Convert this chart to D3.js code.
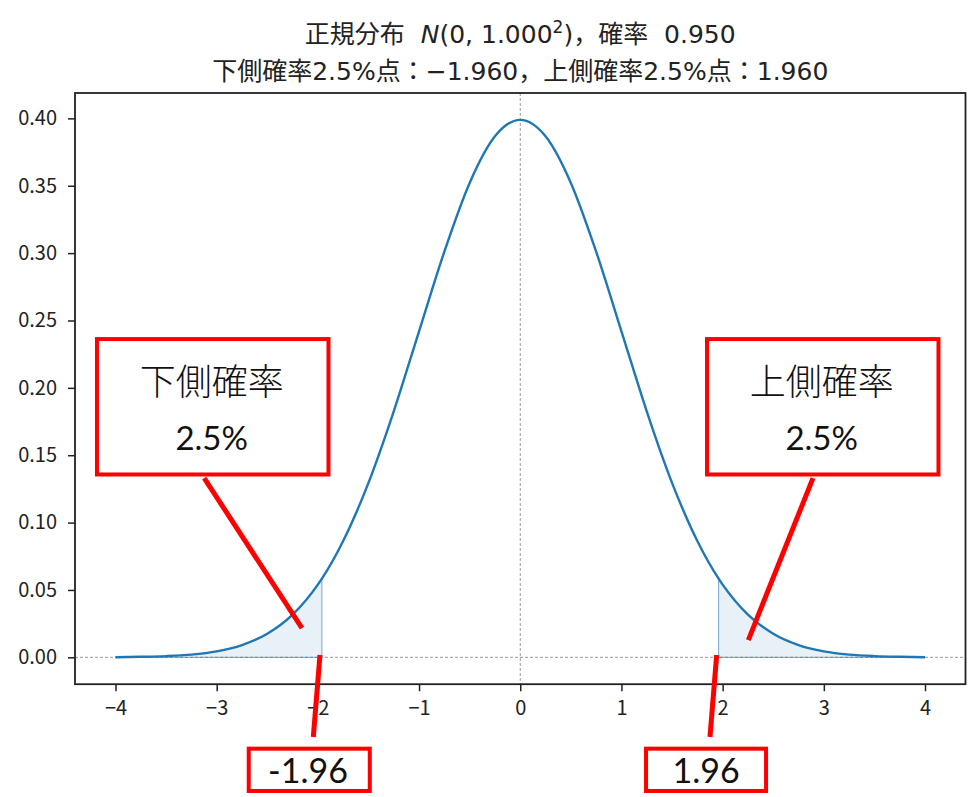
<!DOCTYPE html>
<html>
<head>
<meta charset="utf-8">
<script src="https://cdn.jsdelivr.net/npm/d3@7"></script>
<style>
  body { margin: 0; background: #fff; }
  svg { display: block; }
</style>
</head>
<body>
<div id="chart"></div>
<script>
// 標準正規分布の密度 (図から読んだ値)
var xs = [-4, -3.75, -3.5, -3.25, -3, -2.75, -2.5, -2.25, -2, -1.96, -1.75, -1.5, -1.25, -1, -0.75, -0.5, -0.25,
  0, 0.25, 0.5, 0.75, 1, 1.25, 1.5, 1.75, 1.96, 2, 2.25, 2.5, 2.75, 3, 3.25, 3.5, 3.75, 4];
var pdf = [0.0001, 0.0004, 0.0009, 0.0020, 0.0044, 0.0091, 0.0175, 0.0317, 0.0540, 0.0584, 0.0863, 0.1295, 0.1826, 0.2420, 0.3011, 0.3521, 0.3867,
  0.3989, 0.3867, 0.3521, 0.3011, 0.2420, 0.1826, 0.1295, 0.0863, 0.0584, 0.0540, 0.0317, 0.0175, 0.0091, 0.0044, 0.0020, 0.0009, 0.0004, 0.0001];
var lowerQ = -1.96, upperQ = 1.96;
var xTicks = [-4, -3, -2, -1, 0, 1, 2, 3, 4];
var yTicks = [0, 0.05, 0.10, 0.15, 0.20, 0.25, 0.30, 0.35, 0.40];
var titleLine2 = "下側確率2.5%点：−1.960，上側確率2.5%点：1.960";

// 注釈 (データ座標)
var boxes = [
  { x0: -4.183, x1: -1.895, y0: 0.2362, y1: 0.1357, label: "下側確率", value: "2.5%", tx: -3.049 },
  { x0: 1.8455, x1: 4.133, y0: 0.2362, y1: 0.1357, label: "上側確率", value: "2.5%", tx: 2.979 }
];
var qBoxes = [
  { x0: -2.683, x1: -1.487, y0: -0.0678, y1: -0.0992, text: "-1.96", tx: -2.098 },
  { x0: 1.243, x1: 2.429, y0: -0.0678, y1: -0.0992, text: "1.96", tx: 1.836 }
];
var leaders = [
  [[-3.123, 0.1330], [-2.157, 0.0217]],
  [[2.893, 0.1330], [2.254, 0.0128]],
  [[-1.979, 0.0017], [-2.045, -0.0591]],
  [[1.941, 0.0017], [1.875, -0.0591]]
];

var width = 980, height = 797;
var margin = { top: 93, right: 14.5, bottom: 112.8, left: 75 };

var svg = d3.select("#chart").append("svg")
  .attr("width", width)
  .attr("height", height);

svg.append("rect").attr("width", width).attr("height", height).attr("fill", "#fff");

var x = d3.scaleLinear().domain([-4.4, 4.4]).range([margin.left, width - margin.right]);
var y = d3.scaleLinear().domain([-0.01995, 0.41884]).range([height - margin.bottom, margin.top]);

var pts = xs.map(function (d, i) { return [d, pdf[i]]; });

// 補助線
svg.append("line")
  .attr("x1", x(0)).attr("x2", x(0))
  .attr("y1", y.range()[1]).attr("y2", y.range()[0])
  .attr("stroke", "#999").attr("stroke-width", 1).attr("stroke-dasharray", "3,2");
svg.append("line")
  .attr("x1", x.range()[0]).attr("x2", x.range()[1])
  .attr("y1", y(0)).attr("y2", y(0))
  .attr("stroke", "#999").attr("stroke-width", 1).attr("stroke-dasharray", "3,2");

// 塗りつぶし (両側)
var area = d3.area()
  .curve(d3.curveMonotoneX)
  .x(function (d) { return x(d[0]); })
  .y0(y(0))
  .y1(function (d) { return y(d[1]); });

[pts.filter(function (d) { return d[0] <= lowerQ; }),
 pts.filter(function (d) { return d[0] >= upperQ; })].forEach(function (seg) {
  svg.append("path")
    .datum(seg)
    .attr("d", d => area(d) + "Z")
    .attr("fill", "#1f77b4").attr("fill-opacity", 0.1)
    .attr("stroke", "#1f77b4").attr("stroke-opacity", 0.6).attr("stroke-width", 1);
});

// 密度曲線
var line = d3.line()
  .curve(d3.curveMonotoneX)
  .x(function (d) { return x(d[0]); })
  .y(function (d) { return y(d[1]); });

svg.append("path")
  .datum(pts)
  .attr("d", line)
  .attr("fill", "none")
  .attr("stroke", "#1f77b4")
  .attr("stroke-width", 2.4);

// 軸
var tickFont = "'Noto Sans CJK JP', sans-serif";
var titleFont = "'DejaVu Sans', 'Noto Sans CJK JP', sans-serif";
var yAxis = svg.append("g")
  .attr("transform", "translate(" + margin.left + ",0)")
  .call(d3.axisLeft(y).tickValues(yTicks).tickFormat(d3.format(".2f")).tickSize(7).tickPadding(11));
var xAxis = svg.append("g")
  .attr("transform", "translate(0," + (height - margin.bottom) + ")")
  .call(d3.axisBottom(x).tickValues(xTicks).tickFormat(d3.format("d")).tickSize(7).tickPadding(10));

[xAxis, yAxis].forEach(function (g) {
  g.select(".domain").remove();
  g.selectAll(".tick line").attr("stroke", "#222").attr("stroke-width", 1.5);
  g.selectAll(".tick text")
    .attr("fill", "#222")
    .style("font-family", tickFont)
    .style("font-size", "20px");
});

svg.append("rect")
  .attr("x", x.range()[0]).attr("y", y.range()[1])
  .attr("width", x.range()[1] - x.range()[0])
  .attr("height", y.range()[0] - y.range()[1])
  .attr("fill", "none").attr("stroke", "#222").attr("stroke-width", 1.8);

// タイトル
var cx = (x.range()[0] + x.range()[1]) / 2;
var t1 = svg.append("text")
  .attr("x", cx).attr("y", 43)
  .attr("text-anchor", "middle")
  .style("font-family", titleFont).style("font-size", "25px").attr("fill", "#222");
t1.append("tspan").text("正規分布\u00a0\u00a0");
t1.append("tspan").style("font-style", "italic").text("N");
t1.append("tspan").text("(0, 1.000");
t1.append("tspan").style("font-size", "17px").attr("dy", -10).text("2");
t1.append("tspan").attr("dy", 10).text(")");
t1.append("tspan").text("，確率\u00a0\u00a00.950");

svg.append("text")
  .attr("x", cx).attr("y", 80)
  .attr("text-anchor", "middle")
  .style("font-family", titleFont).style("font-size", "25px").attr("fill", "#222")
  .text(titleLine2);

// 注釈
var red = "#ff0000";
var jpLight = "'Noto Sans CJK JP Light', 'Noto Sans CJK JP', sans-serif";
var numFont = "Lato, 'Open Sans', sans-serif";
leaders.forEach(function (l) {
  svg.append("line")
    .attr("x1", x(l[0][0])).attr("y1", y(l[0][1]))
    .attr("x2", x(l[1][0])).attr("y2", y(l[1][1]))
    .attr("stroke", red).attr("stroke-width", 5);
});

boxes.forEach(function (b) {
  svg.append("rect")
    .attr("x", x(b.x0)).attr("y", y(b.y0))
    .attr("width", x(b.x1) - x(b.x0)).attr("height", y(b.y1) - y(b.y0))
    .attr("fill", "#fff").attr("stroke", red).attr("stroke-width", 4);
  svg.append("text")
    .attr("x", x(b.tx)).attr("y", y(0.1945))
    .attr("text-anchor", "middle")
    .style("font-family", jpLight).style("font-weight", 300).style("font-size", "36px")
    .attr("fill", "#111").text(b.label);
  svg.append("text")
    .attr("x", x(b.tx)).attr("y", y(0.1539))
    .attr("text-anchor", "middle")
    .style("font-family", numFont).style("font-size", "33px")
    .attr("fill", "#111").text(b.value);
});

qBoxes.forEach(function (b) {
  svg.append("rect")
    .attr("x", x(b.x0)).attr("y", y(b.y0))
    .attr("width", x(b.x1) - x(b.x0)).attr("height", y(b.y1) - y(b.y0))
    .attr("fill", "#fff").attr("stroke", red).attr("stroke-width", 4);
  svg.append("text")
    .attr("x", x(b.tx)).attr("y", y(-0.0931))
    .attr("text-anchor", "middle")
    .style("font-family", numFont).style("font-size", "34px")
    .attr("fill", "#111").text(b.text);
});
</script>
</body>
</html>
